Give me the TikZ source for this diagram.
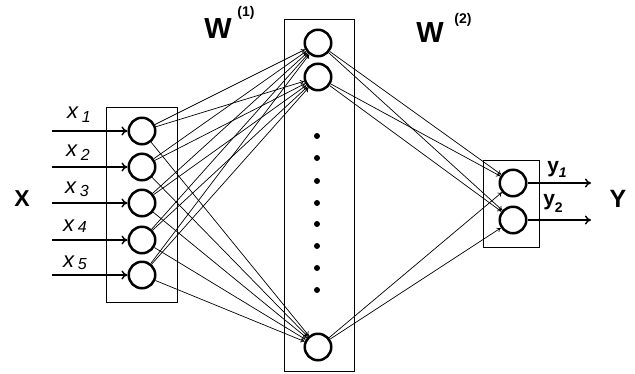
\documentclass[tikz,border=0pt]{standalone}
\usepackage{fontspec}
\setmainfont{Liberation Sans}
\usetikzlibrary{arrows.meta}
\newcommand{\inlab}[2]{x\,\raisebox{#2}{\fontsize{16}{16}\selectfont #1}}
\begin{document}
\begin{tikzpicture}[x=1pt,y=-1pt,
  neuron/.style={circle,draw,line width=2.5pt,minimum size=26.5pt,inner sep=0pt},
  layerbox/.style={draw,line width=0.9pt},
  link/.style={line width=0.7pt,-{To[length=4pt,width=5pt]}},
  inarrow/.style={line width=1.8pt,-{To[length=6pt,width=9pt,line width=1.4pt]}},
  dotmark/.style={circle,fill,inner sep=0pt,minimum size=6pt},
  inlabel/.style={font=\fontsize{22}{22}\selectfont\itshape,inner sep=0pt},
  boldlabel/.style={inner sep=0pt}]
\useasboundingbox (0,0) rectangle (635,373);
% boxes
\node[layerbox,minimum width=71pt,minimum height=195pt,inner sep=0pt] (inbox) at (141.5,204.5) {};
\node[layerbox,minimum width=70pt,minimum height=352pt,inner sep=0pt] (hidbox) at (319,195) {};
\node[layerbox,minimum width=56pt,minimum height=87pt,inner sep=0pt] (outbox) at (511,203.5) {};
% input neurons
\foreach \i/\y in {1/131,2/167,3/203,4/240,5/275}{
  \node[neuron] (i\i) at (142,\y) {};
  \coordinate (s\i) at (52,\y);
  \draw[inarrow] (s\i) -- (i\i.west);
}
\node[inlabel] (lx1) at (79,115) {\inlab{1}{-4pt}};
\node[inlabel] (lx2) at (78,153) {\inlab{2}{-4pt}};
\node[inlabel] (lx3) at (77,189) {\inlab{3}{-3pt}};
\node[inlabel] (lx4) at (75,226) {\inlab{4}{-1pt}};
\node[inlabel] (lx5) at (75,263) {\inlab{5}{-2pt}};
% hidden neurons
\node[neuron] (h1) at (318,43) {};
\node[neuron] (h2) at (318,77) {};
\node[neuron] (h3) at (318,347) {};
\foreach \y in {136,158,181,203,224,246,268,290}{
  \node[dotmark] at (317,\y) {};
}
% output neurons
\node[neuron] (o1) at (513,183) {};
\node[neuron] (o2) at (513,220) {};
\coordinate (e1) at (591,183);
\coordinate (e2) at (591,220);
\draw[inarrow] (o1.east) -- (e1);
\draw[inarrow] (o2.east) -- (e2);
% links
\foreach \i in {1,...,5}{
  \foreach \h in {1,2,3}{
    \draw[link] (i\i) -- (h\h);
  }
}
\foreach \h in {1,2,3}{
  \foreach \o in {1,2}{
    \draw[link] (h\h) -- (o\o);
  }
}
% labels
\node[boldlabel,font=\fontsize{23}{23}\selectfont\bfseries] (X) at (22,199) {X};
\node[boldlabel,font=\fontsize{25}{25}\selectfont\bfseries] (Y) at (618,199) {Y};
\node[boldlabel,font=\fontsize{21}{21}\selectfont\bfseries] (ly1) at (557,169) {y\raisebox{-5pt}{\fontsize{14}{14}\selectfont\itshape 1}};
\node[boldlabel,font=\fontsize{21}{21}\selectfont\bfseries] (ly2) at (553,203) {y\raisebox{-7pt}{\fontsize{14}{14}\selectfont 2}};
\node[boldlabel,font=\fontsize{29}{29}\selectfont\bfseries] (W1) at (218,29) {W};
\node[boldlabel,font=\fontsize{14}{14}\selectfont\bfseries] (W1s) at (246,13) {(1)};
\node[boldlabel,font=\fontsize{29}{29}\selectfont\bfseries] (W2) at (430,33) {W};
\node[boldlabel,font=\fontsize{14}{14}\selectfont\bfseries] (W2s) at (463,20) {(2)};
\end{tikzpicture}
\end{document}
